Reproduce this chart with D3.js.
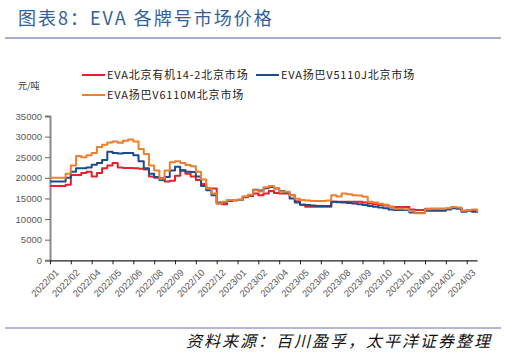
<!DOCTYPE html>
<html><head><meta charset="utf-8">
<script src="https://cdn.jsdelivr.net/npm/d3@7"></script>
<style>
body{margin:0;background:#fff;}
svg{display:block;}
</style></head>
<body>
<svg id="chart" width="507" height="355"></svg>
<script>
const tickLabels = ["2022/01","2022/02","2022/04","2022/05","2022/06","2022/08","2022/09","2022/10","2022/12","2023/01","2023/02","2023/04","2023/05","2023/06","2023/08","2023/09","2023/10","2023/11","2024/01","2024/02","2024/03"];
const seriesNames = ["EVA北京有机14-2北京市场","EVA扬巴V5110J北京市场","EVA扬巴V6110M北京市场"];
const yTicks = [0,5000,10000,15000,20000,25000,30000,35000];
// values sampled every quarter of a label interval
const redVals = [18000,18000,18000,18300,20700,20700,21200,21500,20300,21200,22300,23000,23600,22500,22400,22400,22300,22200,22000,20300,20000,19900,19100,19300,20500,21900,21000,20300,19500,18500,17500,17400,13800,13600,14400,14500,14600,15300,15600,16200,15800,16200,16800,16300,16200,16200,15800,14300,13500,13000,13000,13000,13000,13000,14200,14200,14200,14200,14200,14200,14000,13800,13600,13400,13300,13000,12900,12900,12900,12300,12200,12200,12500,12500,12500,12500,12500,12800,12700,12000,12200,12100,11600];
const blueVals = [19100,19100,19100,20000,21500,22300,22300,22500,23200,23600,24300,26300,26000,25900,26000,26000,25500,24000,22300,21000,20200,19500,20200,21800,22700,21700,21500,21400,20300,18000,17000,15800,14000,14000,14500,14600,14700,15400,15800,17100,16900,17500,17800,17400,16800,16500,15000,14000,13500,13400,13300,13200,13200,13200,14200,14100,14000,13900,13800,13600,13400,13200,13000,12800,12600,12300,12200,12200,12200,11600,11500,11500,12000,12000,12000,12000,12300,12600,12500,11800,12000,11800,11500];
const orangeVals = [20000,20000,20000,21000,23000,25300,25000,25500,26000,27500,28000,28600,28800,28500,29000,29300,28800,27000,25800,23000,21800,19800,21800,23800,24000,23600,23100,22800,21500,19600,17500,16200,13800,14200,14600,14600,14700,15500,15900,17000,16700,17700,18000,17500,16700,16600,15800,14900,14600,14500,14400,14400,14400,14500,15800,15500,16200,16000,15800,15700,15400,14200,14000,13700,13500,13000,12500,12500,12400,11900,11400,11400,12400,12500,12500,12500,12600,12900,12800,12000,12200,12300,11600];
const colors = ["#e8202e","#1f4a8c","#f07f2d"];
const pointsPerLabel = 4;

const svg = d3.select("#chart");
const cjk = "'Noto Sans CJK SC','Noto Sans',sans-serif";
const latin = "'Liberation Sans',Arial,sans-serif";

// title
svg.append("text").attr("x",18).attr("y",25).attr("fill","#34609a")
  .attr("font-family",cjk).attr("font-size",18).attr("letter-spacing",2)
  .text("图表8：EVA 各牌号市场价格");
svg.append("line").attr("x1",5).attr("x2",501).attr("y1",38).attr("y2",38)
  .attr("stroke","#8c8fc2").attr("stroke-width",1.5);

// bottom rule and source
svg.append("line").attr("x1",5).attr("x2",501).attr("y1",328).attr("y2",328)
  .attr("stroke","#6b6fa8").attr("stroke-width",1.2);
svg.append("text").attr("x",492).attr("y",347).attr("text-anchor","end")
  .attr("font-family",cjk).attr("font-size",16).attr("font-style","italic")
  .attr("letter-spacing",2).attr("fill","#111")
  .text("资料来源：百川盈孚，太平洋证券整理");

// unit
svg.append("text").attr("x",18).attr("y",89).attr("font-family",cjk)
  .attr("font-size",9).attr("fill","#333").text("元/吨");

const n = redVals.length;
const x = d3.scaleLinear().domain([0, n-1]).range([50, 477.1]);
const y = d3.scaleLinear().domain([0, 35000]).range([260.3, 116]);

// y axis
const yAxis = d3.axisLeft(y).tickValues(yTicks).tickSize(5).tickPadding(3).tickFormat(d3.format("d"));
const gy = svg.append("g").attr("transform","translate(50,0)").call(yAxis);
gy.select(".domain").attr("stroke","#8a8a8a").attr("stroke-width",2);
gy.selectAll(".tick line").attr("stroke","#666");
gy.selectAll("text").attr("fill","#595959").attr("font-family",latin).attr("font-size",9.5);

// x axis
const xTickVals = tickLabels.map((_,i)=>i*pointsPerLabel);
const xAxis = d3.axisBottom(x).tickValues(xTickVals).tickSize(4).tickSizeOuter(0)
  .tickFormat((d,i)=>tickLabels[i]);
const gx = svg.append("g").attr("transform","translate(0,260.3)").call(xAxis);
gx.select(".domain").attr("stroke","#222").attr("stroke-width",1.3);
gx.selectAll(".tick line").attr("stroke","#222");
gx.selectAll("text").attr("fill","#595959").attr("font-family",latin).attr("font-size",9.5)
  .attr("text-anchor","end").attr("dy",0).attr("dx",0)
  .attr("transform","translate(4,8) rotate(-45)");

// lines
const line = d3.line().x((d,i)=>x(i)).y(d=>y(d)).curve(d3.curveStepAfter);
const data = [redVals, blueVals, orangeVals];
[0,1,2].forEach(k=>{
  svg.append("path").datum(data[k]).attr("d",line).attr("fill","none")
    .attr("stroke",colors[k]).attr("stroke-width",2).attr("stroke-linejoin","round");
});

// legend
const legendItems = [
  {k:0, x:82, y:75},
  {k:1, x:256, y:75},
  {k:2, x:82, y:95}
];
legendItems.forEach(it=>{
  svg.append("line").attr("x1",it.x).attr("x2",it.x+23).attr("y1",it.y).attr("y2",it.y)
    .attr("stroke",colors[it.k]).attr("stroke-width",2);
  svg.append("text").attr("x",it.x+25).attr("y",it.y+4).attr("font-family",cjk)
    .attr("font-size",11).attr("letter-spacing",0.8).attr("fill","#222").text(seriesNames[it.k]);
});
</script>
</body></html>
